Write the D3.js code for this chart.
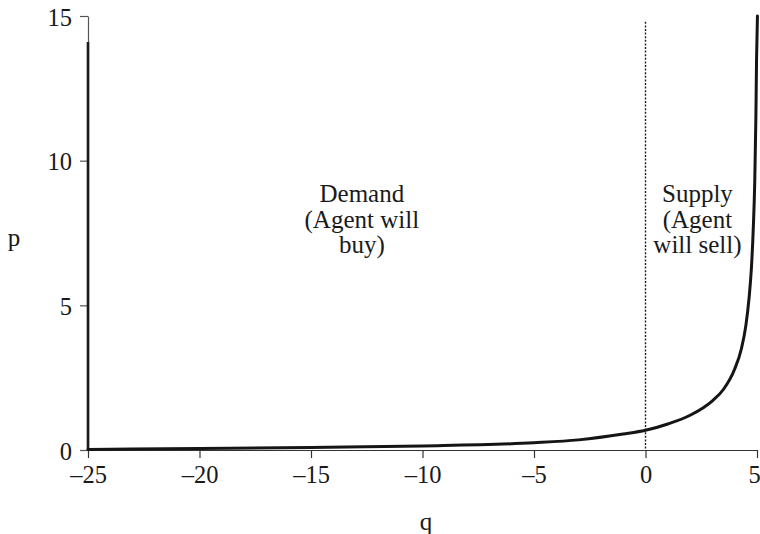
<!DOCTYPE html>
<html>
<head>
<meta charset="utf-8">
<script src="https://cdn.jsdelivr.net/npm/d3@7"></script>
<style>
  html, body { margin: 0; padding: 0; background: #fff; }
  svg text { font-family: "Liberation Serif", "Times New Roman", serif; fill: #1a1a1a; }
</style>
</head>
<body>
<svg id="chart" width="760" height="534"></svg>
<script>
// Quantity offered (negative = buying) and the price at each quantity
const quantity = [-25, -20, -15, -10, -5, -3, -1, 0, 1, 2, 3, 3.5, 4, 4.3, 4.5, 4.65, 4.75, 4.83, 4.9, 4.95, 4.98, 5.02];
const price    = [0.02, 0.05, 0.09, 0.14, 0.25, 0.35, 0.55, 0.68, 0.9, 1.2, 1.7, 2.1, 2.8, 3.5, 4.3, 5.3, 6.3, 7.6, 9.3, 11.5, 13.5, 15];

const xTicks = [-25, -20, -15, -10, -5, 0, 5];
const yTicks = [0, 5, 10, 15];

const demandLines = ["Demand", "(Agent will", "buy)"];
const supplyLines = ["Supply", "(Agent", "will sell)"];

const svg = d3.select("#chart");
const plotLeft = 88, plotRight = 757, plotTop = 16, plotBottom = 450;

const x = d3.scaleLinear().domain([-25, 5]).range([plotLeft, plotRight]);
const y = d3.scaleLinear().domain([0, 15]).range([plotBottom, plotTop]);

const minus = s => String(s).replace("-", "\u2013");

// x axis
const gx = svg.append("g").attr("transform", `translate(0,${plotBottom})`)
  .call(d3.axisBottom(x).tickValues(xTicks).tickSize(8).tickSizeOuter(0).tickPadding(8).tickFormat(minus));
gx.select(".domain").attr("stroke", "#333").attr("stroke-width", 1.2);
gx.selectAll(".tick line").attr("stroke", "#333").attr("stroke-width", 1.2);
gx.selectAll(".tick text").attr("font-size", 24.5).attr("font-family", "Liberation Serif").attr("fill", "#1a1a1a");
// keep the last label inside the frame
gx.selectAll(".tick text").filter(d => d === 5).attr("dx", -3);

// y axis
const gy = svg.append("g").attr("transform", `translate(${plotLeft},0)`)
  .call(d3.axisLeft(y).tickValues(yTicks).tickSize(8).tickSizeOuter(0).tickPadding(8));
gy.select(".domain").attr("stroke", "#555").attr("stroke-width", 1.2);
gy.selectAll(".tick line").attr("stroke", "#555").attr("stroke-width", 1.2);
gy.selectAll(".tick text").attr("font-size", 24.5).attr("font-family", "Liberation Serif").attr("fill", "#1a1a1a")
  .attr("dy", "0.38em");

// heavy stroke along the lower part of the price axis
svg.append("line")
  .attr("x1", x(-25)).attr("x2", x(-25))
  .attr("y1", y(0)).attr("y2", y(14.1))
  .attr("stroke", "#1a1a1a").attr("stroke-width", 2.6);

// dotted reference at zero quantity
svg.append("line")
  .attr("x1", x(0)).attr("x2", x(0))
  .attr("y1", y(14.8)).attr("y2", y(0))
  .attr("stroke", "#1a1a1a").attr("stroke-width", 1.4)
  .attr("stroke-dasharray", "2,1.6");

// price curve
const pts = quantity.map((q, i) => [q, price[i]]);
svg.append("path")
  .datum(pts)
  .attr("fill", "none")
  .attr("stroke", "#151515")
  .attr("stroke-width", 3)
  .attr("stroke-linecap", "round")
  .attr("d", d3.line().x(d => x(d[0])).y(d => y(d[1])).curve(d3.curveMonotoneX));

// axis titles
svg.append("text").attr("x", 426).attr("y", 530)
  .attr("text-anchor", "middle").attr("font-size", 25).text("q");
svg.append("text").attr("x", 14).attr("y", 246)
  .attr("text-anchor", "middle").attr("font-size", 25).text("p");

// region notes
function note(lines, cx) {
  const t = svg.append("text").attr("text-anchor", "middle").attr("font-size", 25);
  lines.forEach((s, i) => {
    t.append("tspan").attr("x", cx).attr("y", 202 + i * 25.5).text(s);
  });
}
note(demandLines, x(-12.72));
note(supplyLines, x(2.33));
</script>
</body>
</html>
